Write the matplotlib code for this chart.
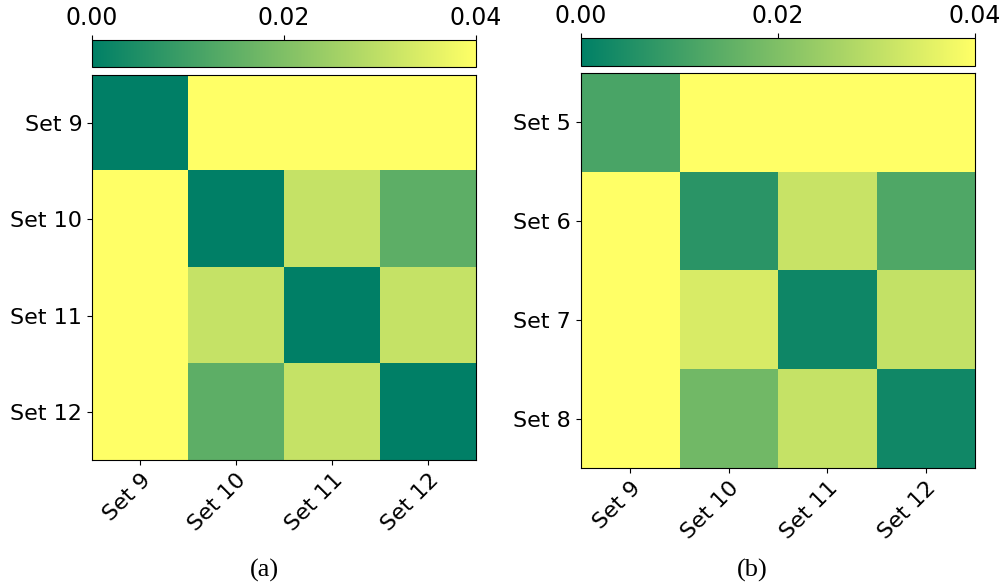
import numpy as np
import matplotlib
matplotlib.use('Agg')
import matplotlib.pyplot as plt

# values (anything >= 0.04 is shown saturated yellow)
x_labels = ['Set 9', 'Set 10', 'Set 11', 'Set 12']
y_labels_a = ['Set 9', 'Set 10', 'Set 11', 'Set 12']
y_labels_b = ['Set 5', 'Set 6', 'Set 7', 'Set 8']

dist_a = [
    [0.0000, 0.0500, 0.0500, 0.0500],
    [0.0500, 0.0000, 0.0309, 0.0146],
    [0.0500, 0.0309, 0.0000, 0.0309],
    [0.0500, 0.0146, 0.0309, 0.0000],
]
dist_b = [
    [0.0116, 0.0500, 0.0500, 0.0500],
    [0.0500, 0.0066, 0.0314, 0.0124],
    [0.0500, 0.0339, 0.0022, 0.0305],
    [0.0500, 0.0179, 0.0308, 0.0025],
]

vmin, vmax = 0.0, 0.04
cbar_ticks = [0.0, 0.02, 0.04]

fig = plt.figure(figsize=(10.06, 5.87), dpi=100)


def draw(ax_pos, cax_pos, data, ylabels, caption, cap_x):
    ax = fig.add_axes(ax_pos)
    im = ax.imshow(np.array(data), cmap='summer', vmin=vmin, vmax=vmax, aspect='auto')
    ax.set_xticks(range(len(x_labels)))
    ax.set_xticklabels(x_labels, rotation=45, ha='right', rotation_mode='anchor', fontsize=16)
    ax.set_yticks(range(len(ylabels)))
    ax.set_yticklabels(ylabels, fontsize=16)
    cax = fig.add_axes(cax_pos)
    cb = fig.colorbar(im, cax=cax, orientation='horizontal', ticks=cbar_ticks)
    cax.xaxis.set_ticks_position('top')
    cax.set_xticklabels(['%.2f' % t for t in cbar_ticks], fontsize=17)
    fig.text(cap_x, 0.008, caption, ha='center', va='bottom',
             fontsize=19, family='Liberation Serif')
    return ax


draw([0.0915, 0.2164, 0.3817, 0.6559], [0.0915, 0.8859, 0.3817, 0.046],
     dist_a, y_labels_a, '(a)', 0.263)
draw([0.5775, 0.2027, 0.3917, 0.6729], [0.5775, 0.8876, 0.3917, 0.0477],
     dist_b, y_labels_b, '(b)', 0.748)

fig.savefig('out.png', dpi=100)
